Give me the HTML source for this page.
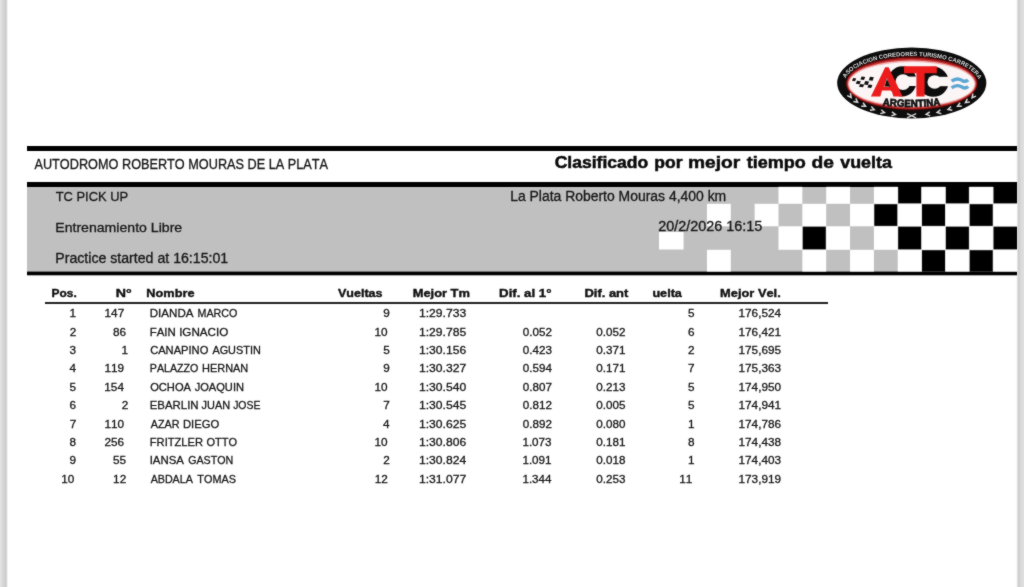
<!DOCTYPE html>
<html><head><meta charset="utf-8"><title>Clasificado por mejor tiempo de vuelta</title>
<style>
html,body{margin:0;padding:0;background:#fff;width:1024px;height:587px;overflow:hidden}
svg{display:block;font-family:'Liberation Sans', sans-serif;font-kerning:none}
</style></head><body>
<div style="will-change:transform;width:1024px;height:587px"><svg width="1024" height="587" viewBox="0 0 1024 587">
<defs><filter id="soft" x="0" y="0" width="1024" height="587" filterUnits="userSpaceOnUse" color-interpolation-filters="sRGB"><feConvolveMatrix order="3" kernelMatrix="1 2 1 2 20 2 1 2 1" edgeMode="duplicate" preserveAlpha="true"/></filter></defs>
<g filter="url(#soft)">
<rect x="0" y="0" width="1024" height="587" fill="#fff"/>
<rect x="0" y="0" width="1" height="587" fill="#e3e3e3"/>
<rect x="1" y="0" width="1" height="587" fill="#dedede"/>
<rect x="2" y="0" width="1" height="587" fill="#d9d9d9"/>
<rect x="3" y="0" width="1" height="587" fill="#d5d5d5"/>
<rect x="4" y="0" width="1" height="587" fill="#d1d1d1"/>
<rect x="5" y="0" width="1" height="587" fill="#cbcbcb"/>
<rect x="6" y="0" width="1" height="587" fill="#d8d8d8"/>
<rect x="7" y="0" width="1" height="587" fill="#f2f2f2"/>
<rect x="1016" y="0" width="1" height="587" fill="#f6f6f6"/>
<rect x="1017" y="0" width="1" height="587" fill="#e2e2e2"/>
<rect x="1018" y="0" width="1" height="587" fill="#cdcdcd"/>
<rect x="1019" y="0" width="1" height="587" fill="#d2d2d2"/>
<rect x="1020" y="0" width="1" height="587" fill="#d7d7d7"/>
<rect x="1021" y="0" width="1" height="587" fill="#dbdbdb"/>
<rect x="1022" y="0" width="1" height="587" fill="#dddddd"/>
<rect x="1023" y="0" width="1" height="587" fill="#dfdfdf"/>
<rect x="27" y="146" width="990" height="5" fill="#000"/>
<rect x="27" y="182" width="990" height="5" fill="#000"/>
<rect x="27" y="187" width="990" height="85" fill="#c0c0c0"/>
<rect x="27" y="271.6" width="990" height="3.7" fill="#000"/>
<rect x="778.50" y="186.80" width="23.85" height="17.00" fill="#ffffff"/>
<rect x="826.20" y="186.80" width="23.85" height="17.00" fill="#ffffff"/>
<rect x="873.90" y="186.80" width="23.85" height="17.00" fill="#ffffff"/>
<rect x="898.20" y="186.80" width="22.95" height="16.55" fill="#000000"/>
<rect x="921.60" y="186.80" width="23.85" height="17.00" fill="#ffffff"/>
<rect x="945.90" y="186.80" width="22.95" height="16.55" fill="#000000"/>
<rect x="969.30" y="186.80" width="23.85" height="17.00" fill="#ffffff"/>
<rect x="993.60" y="186.80" width="23.40" height="16.55" fill="#000000"/>
<rect x="706.95" y="203.80" width="23.85" height="22.50" fill="#ffffff"/>
<rect x="754.65" y="203.80" width="23.85" height="22.50" fill="#ffffff"/>
<rect x="802.35" y="203.80" width="23.85" height="22.50" fill="#ffffff"/>
<rect x="850.05" y="203.80" width="23.85" height="22.50" fill="#ffffff"/>
<rect x="874.35" y="204.25" width="22.95" height="21.60" fill="#000000"/>
<rect x="897.75" y="203.80" width="23.85" height="22.50" fill="#ffffff"/>
<rect x="922.05" y="204.25" width="22.95" height="21.60" fill="#000000"/>
<rect x="945.45" y="203.80" width="23.85" height="22.50" fill="#ffffff"/>
<rect x="969.75" y="204.25" width="22.95" height="21.60" fill="#000000"/>
<rect x="993.15" y="203.80" width="23.85" height="22.50" fill="#ffffff"/>
<rect x="778.50" y="226.30" width="23.85" height="23.50" fill="#ffffff"/>
<rect x="802.80" y="226.75" width="22.95" height="22.60" fill="#000000"/>
<rect x="826.20" y="226.30" width="23.85" height="23.50" fill="#ffffff"/>
<rect x="873.90" y="226.30" width="23.85" height="23.50" fill="#ffffff"/>
<rect x="898.20" y="226.75" width="22.95" height="22.60" fill="#000000"/>
<rect x="921.60" y="226.30" width="23.85" height="23.50" fill="#ffffff"/>
<rect x="945.90" y="226.75" width="22.95" height="22.60" fill="#000000"/>
<rect x="969.30" y="226.30" width="23.85" height="23.50" fill="#ffffff"/>
<rect x="993.60" y="226.75" width="23.40" height="22.60" fill="#000000"/>
<rect x="706.95" y="249.80" width="23.85" height="21.80" fill="#ffffff"/>
<rect x="802.35" y="249.80" width="23.85" height="21.80" fill="#ffffff"/>
<rect x="850.05" y="249.80" width="23.85" height="21.80" fill="#ffffff"/>
<rect x="897.75" y="249.80" width="23.85" height="21.80" fill="#ffffff"/>
<rect x="922.05" y="250.25" width="22.95" height="21.35" fill="#000000"/>
<rect x="945.45" y="249.80" width="23.85" height="21.80" fill="#ffffff"/>
<rect x="969.75" y="250.25" width="22.95" height="21.35" fill="#000000"/>
<rect x="993.15" y="249.80" width="23.85" height="21.80" fill="#ffffff"/>
<rect x="659.0" y="232.0" width="24.6" height="17.5" fill="#fff"/>
<text x="34.48" y="168.90" font-size="13.9" fill="#161616" stroke="#161616" stroke-width="0.3" textLength="293.55" lengthAdjust="spacingAndGlyphs">AUTODROMO ROBERTO MOURAS DE LA PLATA</text>
<text x="554.68" y="168.00" font-size="16.5" font-weight="bold" fill="#0a0a0a" stroke="#0a0a0a" stroke-width="0.5" textLength="93.50" lengthAdjust="spacingAndGlyphs">Clasificado</text>
<text x="654.25" y="168.00" font-size="16.5" font-weight="bold" fill="#0a0a0a" stroke="#0a0a0a" stroke-width="0.5" textLength="28.22" lengthAdjust="spacingAndGlyphs">por</text>
<text x="687.94" y="168.00" font-size="16.5" font-weight="bold" fill="#0a0a0a" stroke="#0a0a0a" stroke-width="0.5" textLength="52.26" lengthAdjust="spacingAndGlyphs">mejor</text>
<text x="746.68" y="168.00" font-size="16.5" font-weight="bold" fill="#0a0a0a" stroke="#0a0a0a" stroke-width="0.5" textLength="59.02" lengthAdjust="spacingAndGlyphs">tiempo</text>
<text x="811.51" y="168.00" font-size="16.5" font-weight="bold" fill="#0a0a0a" stroke="#0a0a0a" stroke-width="0.5" textLength="22.45" lengthAdjust="spacingAndGlyphs">de</text>
<text x="840.23" y="168.00" font-size="16.5" font-weight="bold" fill="#0a0a0a" stroke="#0a0a0a" stroke-width="0.5" textLength="51.76" lengthAdjust="spacingAndGlyphs">vuelta</text>
<text x="55.71" y="200.70" font-size="13.6" fill="#161616" stroke="#161616" stroke-width="0.3" textLength="72.47" lengthAdjust="spacingAndGlyphs">TC PICK UP</text>
<text x="55.24" y="231.70" font-size="13.6" fill="#161616" stroke="#161616" stroke-width="0.3" textLength="126.98" lengthAdjust="spacingAndGlyphs">Entrenamiento Libre</text>
<text x="55.24" y="262.80" font-size="13.8" fill="#161616" stroke="#161616" stroke-width="0.3" textLength="172.95" lengthAdjust="spacingAndGlyphs">Practice started at 16:15:01</text>
<text x="510.16" y="200.90" font-size="13.8" fill="#161616" stroke="#161616" stroke-width="0.3" textLength="216.06" lengthAdjust="spacingAndGlyphs">La Plata Roberto Mouras 4,400 km</text>
<text x="658.28" y="231.30" font-size="13.8" fill="#161616" stroke="#161616" stroke-width="0.3" textLength="104.03" lengthAdjust="spacingAndGlyphs">20/2/2026 16:15</text>
<rect x="45" y="302" width="783" height="2" fill="#222"/>
<text x="51.50" y="297.00" font-size="11.3" font-weight="bold" fill="#111" stroke="#111" stroke-width="0.4" textLength="25.22" lengthAdjust="spacingAndGlyphs">Pos.</text>
<text x="115.85" y="297.00" font-size="11.3" font-weight="bold" fill="#111" stroke="#111" stroke-width="0.4" textLength="15.96" lengthAdjust="spacingAndGlyphs">N°</text>
<text x="146.35" y="297.00" font-size="11.3" font-weight="bold" fill="#111" stroke="#111" stroke-width="0.4" textLength="48.19" lengthAdjust="spacingAndGlyphs">Nombre</text>
<text x="337.91" y="297.00" font-size="11.3" font-weight="bold" fill="#111" stroke="#111" stroke-width="0.4" textLength="44.60" lengthAdjust="spacingAndGlyphs">Vueltas</text>
<text x="412.74" y="297.00" font-size="11.3" font-weight="bold" fill="#111" stroke="#111" stroke-width="0.4" textLength="57.16" lengthAdjust="spacingAndGlyphs">Mejor Tm</text>
<text x="499.11" y="297.00" font-size="11.3" font-weight="bold" fill="#111" stroke="#111" stroke-width="0.4" textLength="52.35" lengthAdjust="spacingAndGlyphs">Dif. al 1°</text>
<text x="584.53" y="297.00" font-size="11.3" font-weight="bold" fill="#111" stroke="#111" stroke-width="0.4" textLength="43.82" lengthAdjust="spacingAndGlyphs">Dif. ant</text>
<text x="652.42" y="297.00" font-size="11.3" font-weight="bold" fill="#111" stroke="#111" stroke-width="0.4" textLength="29.50" lengthAdjust="spacingAndGlyphs">uelta</text>
<text x="720.14" y="297.00" font-size="11.3" font-weight="bold" fill="#111" stroke="#111" stroke-width="0.4" textLength="60.64" lengthAdjust="spacingAndGlyphs">Mejor Vel.</text>
<text x="69.63" y="317.10" font-size="11.4" fill="#161616" stroke="#161616" stroke-width="0.3" textLength="6.54" lengthAdjust="spacingAndGlyphs">1</text>
<text x="104.57" y="317.10" font-size="11.4" fill="#161616" stroke="#161616" stroke-width="0.3" textLength="19.62" lengthAdjust="spacingAndGlyphs">147</text>
<text x="149.75" y="317.10" font-size="11.8" fill="#161616" stroke="#161616" stroke-width="0.3" textLength="43.77" lengthAdjust="spacingAndGlyphs">DIANDA</text>
<text x="197.52" y="317.10" font-size="11.8" fill="#161616" stroke="#161616" stroke-width="0.3" textLength="39.89" lengthAdjust="spacingAndGlyphs">MARCO</text>
<text x="383.22" y="317.10" font-size="11.4" fill="#161616" stroke="#161616" stroke-width="0.3" textLength="6.54" lengthAdjust="spacingAndGlyphs">9</text>
<text x="418.98" y="317.10" font-size="11.4" fill="#161616" stroke="#161616" stroke-width="0.3" textLength="47.18" lengthAdjust="spacingAndGlyphs">1:29.733</text>
<text x="687.95" y="317.10" font-size="11.4" fill="#161616" stroke="#161616" stroke-width="0.3" textLength="6.54" lengthAdjust="spacingAndGlyphs">5</text>
<text x="738.50" y="317.10" font-size="11.4" fill="#161616" stroke="#161616" stroke-width="0.3" textLength="42.55" lengthAdjust="spacingAndGlyphs">176,524</text>
<text x="69.65" y="335.52" font-size="11.4" fill="#161616" stroke="#161616" stroke-width="0.3" textLength="6.54" lengthAdjust="spacingAndGlyphs">2</text>
<text x="113.04" y="335.52" font-size="11.4" fill="#161616" stroke="#161616" stroke-width="0.3" textLength="13.08" lengthAdjust="spacingAndGlyphs">86</text>
<text x="149.76" y="335.52" font-size="11.8" fill="#161616" stroke="#161616" stroke-width="0.3" textLength="26.07" lengthAdjust="spacingAndGlyphs">FAIN</text>
<text x="179.13" y="335.52" font-size="11.8" fill="#161616" stroke="#161616" stroke-width="0.3" textLength="49.13" lengthAdjust="spacingAndGlyphs">IGNACIO</text>
<text x="374.58" y="335.52" font-size="11.4" fill="#161616" stroke="#161616" stroke-width="0.3" textLength="13.08" lengthAdjust="spacingAndGlyphs">10</text>
<text x="418.98" y="335.52" font-size="11.4" fill="#161616" stroke="#161616" stroke-width="0.3" textLength="47.18" lengthAdjust="spacingAndGlyphs">1:29.785</text>
<text x="522.85" y="335.52" font-size="11.4" fill="#161616" stroke="#161616" stroke-width="0.3" textLength="29.13" lengthAdjust="spacingAndGlyphs">0.052</text>
<text x="596.35" y="335.52" font-size="11.4" fill="#161616" stroke="#161616" stroke-width="0.3" textLength="29.13" lengthAdjust="spacingAndGlyphs">0.052</text>
<text x="687.98" y="335.52" font-size="11.4" fill="#161616" stroke="#161616" stroke-width="0.3" textLength="6.54" lengthAdjust="spacingAndGlyphs">6</text>
<text x="738.50" y="335.52" font-size="11.4" fill="#161616" stroke="#161616" stroke-width="0.3" textLength="42.55" lengthAdjust="spacingAndGlyphs">176,421</text>
<text x="69.58" y="353.94" font-size="11.4" fill="#161616" stroke="#161616" stroke-width="0.3" textLength="6.54" lengthAdjust="spacingAndGlyphs">3</text>
<text x="121.63" y="353.94" font-size="11.4" fill="#161616" stroke="#161616" stroke-width="0.3" textLength="6.54" lengthAdjust="spacingAndGlyphs">1</text>
<text x="150.13" y="353.94" font-size="11.8" fill="#161616" stroke="#161616" stroke-width="0.3" textLength="58.20" lengthAdjust="spacingAndGlyphs">CANAPINO</text>
<text x="212.38" y="353.94" font-size="11.8" fill="#161616" stroke="#161616" stroke-width="0.3" textLength="48.41" lengthAdjust="spacingAndGlyphs">AGUSTIN</text>
<text x="383.15" y="353.94" font-size="11.4" fill="#161616" stroke="#161616" stroke-width="0.3" textLength="6.54" lengthAdjust="spacingAndGlyphs">5</text>
<text x="418.98" y="353.94" font-size="11.4" fill="#161616" stroke="#161616" stroke-width="0.3" textLength="47.18" lengthAdjust="spacingAndGlyphs">1:30.156</text>
<text x="522.85" y="353.94" font-size="11.4" fill="#161616" stroke="#161616" stroke-width="0.3" textLength="29.13" lengthAdjust="spacingAndGlyphs">0.423</text>
<text x="596.35" y="353.94" font-size="11.4" fill="#161616" stroke="#161616" stroke-width="0.3" textLength="29.13" lengthAdjust="spacingAndGlyphs">0.371</text>
<text x="688.05" y="353.94" font-size="11.4" fill="#161616" stroke="#161616" stroke-width="0.3" textLength="6.54" lengthAdjust="spacingAndGlyphs">2</text>
<text x="738.50" y="353.94" font-size="11.4" fill="#161616" stroke="#161616" stroke-width="0.3" textLength="42.55" lengthAdjust="spacingAndGlyphs">175,695</text>
<text x="69.40" y="372.36" font-size="11.4" fill="#161616" stroke="#161616" stroke-width="0.3" textLength="6.54" lengthAdjust="spacingAndGlyphs">4</text>
<text x="104.54" y="372.36" font-size="11.4" fill="#161616" stroke="#161616" stroke-width="0.3" textLength="19.62" lengthAdjust="spacingAndGlyphs">119</text>
<text x="149.83" y="372.36" font-size="11.8" fill="#161616" stroke="#161616" stroke-width="0.3" textLength="48.58" lengthAdjust="spacingAndGlyphs">PALAZZO</text>
<text x="202.00" y="372.36" font-size="11.8" fill="#161616" stroke="#161616" stroke-width="0.3" textLength="46.29" lengthAdjust="spacingAndGlyphs">HERNAN</text>
<text x="383.22" y="372.36" font-size="11.4" fill="#161616" stroke="#161616" stroke-width="0.3" textLength="6.54" lengthAdjust="spacingAndGlyphs">9</text>
<text x="418.98" y="372.36" font-size="11.4" fill="#161616" stroke="#161616" stroke-width="0.3" textLength="47.18" lengthAdjust="spacingAndGlyphs">1:30.327</text>
<text x="522.85" y="372.36" font-size="11.4" fill="#161616" stroke="#161616" stroke-width="0.3" textLength="29.13" lengthAdjust="spacingAndGlyphs">0.594</text>
<text x="596.35" y="372.36" font-size="11.4" fill="#161616" stroke="#161616" stroke-width="0.3" textLength="29.13" lengthAdjust="spacingAndGlyphs">0.171</text>
<text x="688.05" y="372.36" font-size="11.4" fill="#161616" stroke="#161616" stroke-width="0.3" textLength="6.54" lengthAdjust="spacingAndGlyphs">7</text>
<text x="738.50" y="372.36" font-size="11.4" fill="#161616" stroke="#161616" stroke-width="0.3" textLength="42.55" lengthAdjust="spacingAndGlyphs">175,363</text>
<text x="69.55" y="390.78" font-size="11.4" fill="#161616" stroke="#161616" stroke-width="0.3" textLength="6.54" lengthAdjust="spacingAndGlyphs">5</text>
<text x="104.32" y="390.78" font-size="11.4" fill="#161616" stroke="#161616" stroke-width="0.3" textLength="19.62" lengthAdjust="spacingAndGlyphs">154</text>
<text x="150.17" y="390.78" font-size="11.8" fill="#161616" stroke="#161616" stroke-width="0.3" textLength="40.85" lengthAdjust="spacingAndGlyphs">OCHOA</text>
<text x="194.63" y="390.78" font-size="11.8" fill="#161616" stroke="#161616" stroke-width="0.3" textLength="49.38" lengthAdjust="spacingAndGlyphs">JOAQUIN</text>
<text x="374.58" y="390.78" font-size="11.4" fill="#161616" stroke="#161616" stroke-width="0.3" textLength="13.08" lengthAdjust="spacingAndGlyphs">10</text>
<text x="418.98" y="390.78" font-size="11.4" fill="#161616" stroke="#161616" stroke-width="0.3" textLength="47.18" lengthAdjust="spacingAndGlyphs">1:30.540</text>
<text x="522.85" y="390.78" font-size="11.4" fill="#161616" stroke="#161616" stroke-width="0.3" textLength="29.13" lengthAdjust="spacingAndGlyphs">0.807</text>
<text x="596.35" y="390.78" font-size="11.4" fill="#161616" stroke="#161616" stroke-width="0.3" textLength="29.13" lengthAdjust="spacingAndGlyphs">0.213</text>
<text x="687.95" y="390.78" font-size="11.4" fill="#161616" stroke="#161616" stroke-width="0.3" textLength="6.54" lengthAdjust="spacingAndGlyphs">5</text>
<text x="738.50" y="390.78" font-size="11.4" fill="#161616" stroke="#161616" stroke-width="0.3" textLength="42.55" lengthAdjust="spacingAndGlyphs">174,950</text>
<text x="69.58" y="409.20" font-size="11.4" fill="#161616" stroke="#161616" stroke-width="0.3" textLength="6.54" lengthAdjust="spacingAndGlyphs">6</text>
<text x="121.65" y="409.20" font-size="11.4" fill="#161616" stroke="#161616" stroke-width="0.3" textLength="6.54" lengthAdjust="spacingAndGlyphs">2</text>
<text x="149.77" y="409.20" font-size="11.8" fill="#161616" stroke="#161616" stroke-width="0.3" textLength="48.76" lengthAdjust="spacingAndGlyphs">EBARLIN</text>
<text x="201.53" y="409.20" font-size="11.8" fill="#161616" stroke="#161616" stroke-width="0.3" textLength="28.56" lengthAdjust="spacingAndGlyphs">JUAN</text>
<text x="233.14" y="409.20" font-size="11.8" fill="#161616" stroke="#161616" stroke-width="0.3" textLength="27.31" lengthAdjust="spacingAndGlyphs">JOSE</text>
<text x="383.25" y="409.20" font-size="11.4" fill="#161616" stroke="#161616" stroke-width="0.3" textLength="6.54" lengthAdjust="spacingAndGlyphs">7</text>
<text x="418.98" y="409.20" font-size="11.4" fill="#161616" stroke="#161616" stroke-width="0.3" textLength="47.18" lengthAdjust="spacingAndGlyphs">1:30.545</text>
<text x="522.85" y="409.20" font-size="11.4" fill="#161616" stroke="#161616" stroke-width="0.3" textLength="29.13" lengthAdjust="spacingAndGlyphs">0.812</text>
<text x="596.35" y="409.20" font-size="11.4" fill="#161616" stroke="#161616" stroke-width="0.3" textLength="29.13" lengthAdjust="spacingAndGlyphs">0.005</text>
<text x="687.95" y="409.20" font-size="11.4" fill="#161616" stroke="#161616" stroke-width="0.3" textLength="6.54" lengthAdjust="spacingAndGlyphs">5</text>
<text x="738.50" y="409.20" font-size="11.4" fill="#161616" stroke="#161616" stroke-width="0.3" textLength="42.55" lengthAdjust="spacingAndGlyphs">174,941</text>
<text x="69.65" y="427.62" font-size="11.4" fill="#161616" stroke="#161616" stroke-width="0.3" textLength="6.54" lengthAdjust="spacingAndGlyphs">7</text>
<text x="104.44" y="427.62" font-size="11.4" fill="#161616" stroke="#161616" stroke-width="0.3" textLength="19.62" lengthAdjust="spacingAndGlyphs">110</text>
<text x="150.68" y="427.62" font-size="11.8" fill="#161616" stroke="#161616" stroke-width="0.3" textLength="28.82" lengthAdjust="spacingAndGlyphs">AZAR</text>
<text x="182.98" y="427.62" font-size="11.8" fill="#161616" stroke="#161616" stroke-width="0.3" textLength="36.26" lengthAdjust="spacingAndGlyphs">DIEGO</text>
<text x="383.00" y="427.62" font-size="11.4" fill="#161616" stroke="#161616" stroke-width="0.3" textLength="6.54" lengthAdjust="spacingAndGlyphs">4</text>
<text x="418.98" y="427.62" font-size="11.4" fill="#161616" stroke="#161616" stroke-width="0.3" textLength="47.18" lengthAdjust="spacingAndGlyphs">1:30.625</text>
<text x="522.85" y="427.62" font-size="11.4" fill="#161616" stroke="#161616" stroke-width="0.3" textLength="29.13" lengthAdjust="spacingAndGlyphs">0.892</text>
<text x="596.35" y="427.62" font-size="11.4" fill="#161616" stroke="#161616" stroke-width="0.3" textLength="29.13" lengthAdjust="spacingAndGlyphs">0.080</text>
<text x="688.03" y="427.62" font-size="11.4" fill="#161616" stroke="#161616" stroke-width="0.3" textLength="6.54" lengthAdjust="spacingAndGlyphs">1</text>
<text x="738.50" y="427.62" font-size="11.4" fill="#161616" stroke="#161616" stroke-width="0.3" textLength="42.55" lengthAdjust="spacingAndGlyphs">174,786</text>
<text x="69.57" y="446.04" font-size="11.4" fill="#161616" stroke="#161616" stroke-width="0.3" textLength="6.54" lengthAdjust="spacingAndGlyphs">8</text>
<text x="104.50" y="446.04" font-size="11.4" fill="#161616" stroke="#161616" stroke-width="0.3" textLength="19.62" lengthAdjust="spacingAndGlyphs">256</text>
<text x="149.79" y="446.04" font-size="11.8" fill="#161616" stroke="#161616" stroke-width="0.3" textLength="53.23" lengthAdjust="spacingAndGlyphs">FRITZLER</text>
<text x="206.48" y="446.04" font-size="11.8" fill="#161616" stroke="#161616" stroke-width="0.3" textLength="30.55" lengthAdjust="spacingAndGlyphs">OTTO</text>
<text x="374.58" y="446.04" font-size="11.4" fill="#161616" stroke="#161616" stroke-width="0.3" textLength="13.08" lengthAdjust="spacingAndGlyphs">10</text>
<text x="418.98" y="446.04" font-size="11.4" fill="#161616" stroke="#161616" stroke-width="0.3" textLength="47.18" lengthAdjust="spacingAndGlyphs">1:30.806</text>
<text x="522.41" y="446.04" font-size="11.4" fill="#161616" stroke="#161616" stroke-width="0.3" textLength="29.13" lengthAdjust="spacingAndGlyphs">1.073</text>
<text x="596.35" y="446.04" font-size="11.4" fill="#161616" stroke="#161616" stroke-width="0.3" textLength="29.13" lengthAdjust="spacingAndGlyphs">0.181</text>
<text x="687.97" y="446.04" font-size="11.4" fill="#161616" stroke="#161616" stroke-width="0.3" textLength="6.54" lengthAdjust="spacingAndGlyphs">8</text>
<text x="738.50" y="446.04" font-size="11.4" fill="#161616" stroke="#161616" stroke-width="0.3" textLength="42.55" lengthAdjust="spacingAndGlyphs">174,438</text>
<text x="69.62" y="464.46" font-size="11.4" fill="#161616" stroke="#161616" stroke-width="0.3" textLength="6.54" lengthAdjust="spacingAndGlyphs">9</text>
<text x="113.01" y="464.46" font-size="11.4" fill="#161616" stroke="#161616" stroke-width="0.3" textLength="13.08" lengthAdjust="spacingAndGlyphs">55</text>
<text x="149.65" y="464.46" font-size="11.8" fill="#161616" stroke="#161616" stroke-width="0.3" textLength="34.28" lengthAdjust="spacingAndGlyphs">IANSA</text>
<text x="188.16" y="464.46" font-size="11.8" fill="#161616" stroke="#161616" stroke-width="0.3" textLength="45.11" lengthAdjust="spacingAndGlyphs">GASTON</text>
<text x="383.25" y="464.46" font-size="11.4" fill="#161616" stroke="#161616" stroke-width="0.3" textLength="6.54" lengthAdjust="spacingAndGlyphs">2</text>
<text x="418.98" y="464.46" font-size="11.4" fill="#161616" stroke="#161616" stroke-width="0.3" textLength="47.18" lengthAdjust="spacingAndGlyphs">1:30.824</text>
<text x="522.41" y="464.46" font-size="11.4" fill="#161616" stroke="#161616" stroke-width="0.3" textLength="29.13" lengthAdjust="spacingAndGlyphs">1.091</text>
<text x="596.35" y="464.46" font-size="11.4" fill="#161616" stroke="#161616" stroke-width="0.3" textLength="29.13" lengthAdjust="spacingAndGlyphs">0.018</text>
<text x="688.03" y="464.46" font-size="11.4" fill="#161616" stroke="#161616" stroke-width="0.3" textLength="6.54" lengthAdjust="spacingAndGlyphs">1</text>
<text x="738.50" y="464.46" font-size="11.4" fill="#161616" stroke="#161616" stroke-width="0.3" textLength="42.55" lengthAdjust="spacingAndGlyphs">174,403</text>
<text x="61.18" y="482.88" font-size="11.4" fill="#161616" stroke="#161616" stroke-width="0.3" textLength="13.08" lengthAdjust="spacingAndGlyphs">10</text>
<text x="113.11" y="482.88" font-size="11.4" fill="#161616" stroke="#161616" stroke-width="0.3" textLength="13.08" lengthAdjust="spacingAndGlyphs">12</text>
<text x="150.68" y="482.88" font-size="11.8" fill="#161616" stroke="#161616" stroke-width="0.3" textLength="42.14" lengthAdjust="spacingAndGlyphs">ABDALA</text>
<text x="197.36" y="482.88" font-size="11.8" fill="#161616" stroke="#161616" stroke-width="0.3" textLength="38.54" lengthAdjust="spacingAndGlyphs">TOMAS</text>
<text x="374.71" y="482.88" font-size="11.4" fill="#161616" stroke="#161616" stroke-width="0.3" textLength="13.08" lengthAdjust="spacingAndGlyphs">12</text>
<text x="418.98" y="482.88" font-size="11.4" fill="#161616" stroke="#161616" stroke-width="0.3" textLength="47.18" lengthAdjust="spacingAndGlyphs">1:31.077</text>
<text x="522.41" y="482.88" font-size="11.4" fill="#161616" stroke="#161616" stroke-width="0.3" textLength="29.13" lengthAdjust="spacingAndGlyphs">1.344</text>
<text x="596.35" y="482.88" font-size="11.4" fill="#161616" stroke="#161616" stroke-width="0.3" textLength="29.13" lengthAdjust="spacingAndGlyphs">0.253</text>
<text x="679.29" y="482.88" font-size="11.4" fill="#161616" stroke="#161616" stroke-width="0.3" textLength="13.08" lengthAdjust="spacingAndGlyphs">11</text>
<text x="738.50" y="482.88" font-size="11.4" fill="#161616" stroke="#161616" stroke-width="0.3" textLength="42.55" lengthAdjust="spacingAndGlyphs">173,919</text>
<g id="logo">
<defs><path id="arcTop" d="M 844.15 84.00 A 67.60 28.20 0 0 1 979.35 84.00"/></defs>
<ellipse cx="911.75" cy="83.0" rx="74.6" ry="35.4" fill="#0d0d0d"/>
<ellipse cx="911.75" cy="83.3" rx="66.2" ry="27.2" fill="#450707"/>
<ellipse cx="911.75" cy="83.5" rx="65.4" ry="26.0" fill="#9c1818"/>
<ellipse cx="911.75" cy="83.7" rx="64.6" ry="24.7" fill="#d44040"/>
<ellipse cx="911.75" cy="83.9" rx="63.7" ry="23.4" fill="#eeb8b8"/>
<ellipse cx="911.75" cy="84.0" rx="62.6" ry="22.0" fill="#fcf5f5"/>
<text font-size="5.9" font-weight="bold" fill="#d9d9d9"><textPath href="#arcTop" startOffset="6.0" textLength="146" lengthAdjust="spacingAndGlyphs">ASOCIACION COREDORES TURISMO CARRETERA</textPath></text>
<path transform="translate(850.20,96.20) rotate(52.1)" d="M -2.3 -2.0 L 1.5 0 L -2.3 2.0" fill="none" stroke="#dadada" stroke-width="1.5" stroke-linejoin="miter"/>
<path transform="translate(856.40,101.30) rotate(37.4)" d="M -2.3 -2.0 L 1.5 0 L -2.3 2.0" fill="none" stroke="#dadada" stroke-width="1.5" stroke-linejoin="miter"/>
<path transform="translate(864.20,105.60) rotate(27.3)" d="M -2.3 -2.0 L 1.5 0 L -2.3 2.0" fill="none" stroke="#dadada" stroke-width="1.5" stroke-linejoin="miter"/>
<path transform="translate(872.80,109.10) rotate(20.0)" d="M -2.3 -2.0 L 1.5 0 L -2.3 2.0" fill="none" stroke="#dadada" stroke-width="1.5" stroke-linejoin="miter"/>
<path transform="translate(883.00,112.20) rotate(13.5)" d="M -2.3 -2.0 L 1.5 0 L -2.3 2.0" fill="none" stroke="#dadada" stroke-width="1.5" stroke-linejoin="miter"/>
<path transform="translate(893.90,114.20) rotate(7.9)" d="M -2.3 -2.0 L 1.5 0 L -2.3 2.0" fill="none" stroke="#dadada" stroke-width="1.5" stroke-linejoin="miter"/>
<path transform="translate(927.70,114.20) rotate(352.9)" d="M 2.3 -2.0 L -1.5 0 L 2.3 2.0" fill="none" stroke="#dadada" stroke-width="1.5" stroke-linejoin="miter"/>
<path transform="translate(938.60,112.20) rotate(347.5)" d="M 2.3 -2.0 L -1.5 0 L 2.3 2.0" fill="none" stroke="#dadada" stroke-width="1.5" stroke-linejoin="miter"/>
<path transform="translate(949.50,109.10) rotate(340.9)" d="M 2.3 -2.0 L -1.5 0 L 2.3 2.0" fill="none" stroke="#dadada" stroke-width="1.5" stroke-linejoin="miter"/>
<path transform="translate(958.90,105.60) rotate(333.1)" d="M 2.3 -2.0 L -1.5 0 L 2.3 2.0" fill="none" stroke="#dadada" stroke-width="1.5" stroke-linejoin="miter"/>
<path transform="translate(966.70,101.70) rotate(323.2)" d="M 2.3 -2.0 L -1.5 0 L 2.3 2.0" fill="none" stroke="#dadada" stroke-width="1.5" stroke-linejoin="miter"/>
<path transform="translate(973.00,96.60) rotate(308.9)" d="M 2.3 -2.0 L -1.5 0 L 2.3 2.0" fill="none" stroke="#dadada" stroke-width="1.5" stroke-linejoin="miter"/>
<path transform="translate(911.6,115.8)" d="M -4.6 -2.1 L 4.6 2.1 M -4.6 2.1 L 4.6 -2.1" fill="none" stroke="#cfcfcf" stroke-width="1.3"/>
<ellipse cx="902.3" cy="81.3" rx="14.2" ry="15.1" fill="#0d0d0d"/>
<ellipse cx="903.0" cy="82.2" rx="7.6" ry="7.9" fill="#fcf5f5"/>
<rect x="903.0" y="76.6" width="14.00" height="9.400000000000006" fill="#fcf5f5"/>
<ellipse cx="933.3" cy="81.8" rx="15.3" ry="15.0" fill="#0d0d0d"/>
<ellipse cx="934.6" cy="82.0" rx="7.2" ry="6.8" fill="#fcf5f5"/>
<rect x="934.6" y="76.8" width="14.50" height="9.400000000000006" fill="#fcf5f5"/>
<path fill="#ec1c1c" d="M 904.0 66.3 L 936.8 66.3 L 936.8 73.2 L 924.6 73.2 L 924.6 96.5 L 916.4 96.5 L 916.4 73.2 L 904.0 73.2 Z"/>
<path fill="#ec1c1c" fill-rule="evenodd" d="M 885.2 67.3 L 888.6 67.3 L 902.6 96.4 L 893.4 96.4 L 891.6 90.6 L 882.0 90.6 L 880.3 96.4 L 870.9 96.4 Z M 887.0 78.0 L 884.2 86.8 L 889.9 86.8 Z"/>
<path fill="#0d0d0d" d="M 887.0 78.6 L 884.6 86.6 L 889.6 86.6 Z"/>
<defs><path id="arcArg" d="M 878 104.8 Q 911.5 109.2 945 104.8"/></defs>
<text font-size="10.4" font-weight="bold" fill="#111" stroke="#111" stroke-width="0.75"><textPath href="#arcArg" startOffset="4.6" textLength="58.2" lengthAdjust="spacingAndGlyphs">ARGENTINA</textPath></text>
<path d="M 861.60 76.50 L 865.20 77.00 L 864.00 80.10 L 860.40 79.60 Z" fill="#101010"/>
<path d="M 870.00 76.70 L 873.80 77.20 L 872.60 80.70 L 868.80 80.20 Z" fill="#101010"/>
<path d="M 857.00 80.70 L 860.80 81.20 L 859.60 84.30 L 855.80 83.80 Z" fill="#101010"/>
<path d="M 865.20 81.10 L 869.00 81.60 L 867.80 84.90 L 864.00 84.40 Z" fill="#101010"/>
<path d="M 860.20 83.90 L 864.20 84.40 L 863.00 87.30 L 859.00 86.80 Z" fill="#101010"/>
<path d="M 868.60 84.50 L 872.40 85.00 L 871.20 88.10 L 867.40 87.60 Z" fill="#101010"/>
<path d="M 853.20 78.10 L 856.20 78.60 L 855.00 81.30 L 852.00 80.80 Z" fill="#101010"/>
<path d="M 951.6 81.2 C 955 78.6 959 78.6 962 80.4 C 964.5 81.8 966.5 81.6 968.2 80.0" fill="none" stroke="#5ba6d4" stroke-width="3.4"/>
<path d="M 951.6 87.8 C 955 85.2 959 85.2 962 87.0 C 964.5 88.4 966.5 88.2 968.2 86.6" fill="none" stroke="#5ba6d4" stroke-width="3.4"/>
</g>
</g>
</svg></div>
</body></html>
